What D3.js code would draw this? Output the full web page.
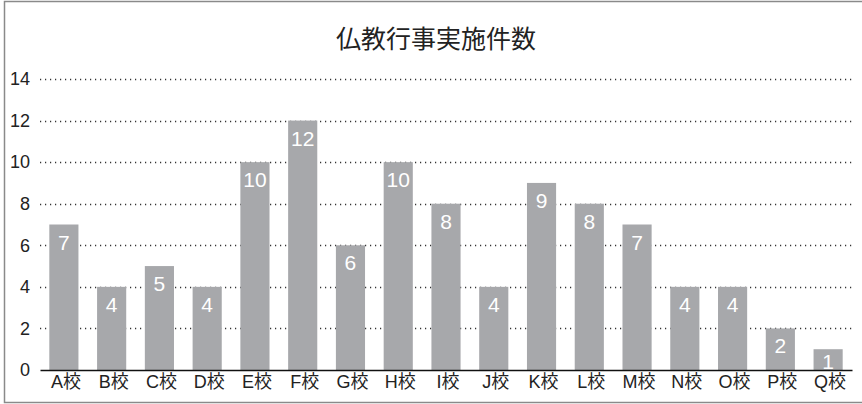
<!DOCTYPE html>
<html>
<head>
<meta charset="utf-8">
<script src="https://cdn.jsdelivr.net/npm/d3@7"></script>
<style>
  body { margin: 0; background: #fff; }
  text { font-family: "Liberation Sans", "Noto Sans CJK JP", sans-serif; }
</style>
</head>
<body>
<svg class="chart" width="862" height="404"></svg>
<script>
var schools = ["A校","B校","C校","D校","E校","F校","G校","H校","I校","J校","K校","L校","M校","N校","O校","P校","Q校"]
var counts = [7,4,5,4,10,12,6,10,8,4,9,8,7,4,4,2,1]
var yTicks = [0,2,4,6,8,10,12,14]
var title = "仏教行事実施件数"

var svg = d3.select(".chart")
var margin = {top: 79, right: 10, bottom: 34, left: 40}
var width = +svg.attr("width") - margin.left - margin.right
var height = +svg.attr("height") - margin.top - margin.bottom
var barColor = "#a7a8ab"

// outer frame (no right edge in the original)
svg.append("path")
  .attr("d", "M862,1.5H4.5V402.5H862")
  .attr("fill", "none")
  .attr("stroke", "#8a8a8a")
  .attr("stroke-width", 1.5)

svg.append("text")
  .attr("x", 436)
  .attr("y", 48)
  .attr("text-anchor", "middle")
  .style("font-family", "'Noto Sans CJK JP', sans-serif")
  .style("font-size", "25px")
  .style("fill", "#222")
  .text(title)

var g = svg.append("g").attr("transform", "translate(" + margin.left + "," + margin.top + ")")

var xscale = d3.scaleBand()
  .domain(schools)
  .range([0, width])
  .paddingInner(0.39)
  .paddingOuter(0.195)

var yscale = d3.scaleLinear()
  .domain([0, 14])
  .range([height, 0])

// dotted grid
g.selectAll(".grid")
  .data(yTicks.filter(d => d > 0))
  .enter().append("line")
  .attr("class", "grid")
  .attr("x1", 0).attr("x2", width)
  .attr("y1", d => Math.round(yscale(d)) + 0.5)
  .attr("y2", d => Math.round(yscale(d)) + 0.5)
  .attr("stroke", "#333")
  .attr("stroke-width", 1.3)
  .attr("stroke-dasharray", "1.2,3.8")

var bar = g.selectAll(".bar")
  .data(counts)
  .enter().append("g")
  .attr("class", "bar")
  .attr("transform", (d, i) => "translate(" + xscale(schools[i]) + "," + yscale(d) + ")")

bar.append("rect")
  .attr("width", xscale.bandwidth())
  .attr("height", d => height - yscale(d))
  .style("fill", barColor)

bar.append("text")
  .attr("x", xscale.bandwidth() / 2)
  .attr("y", d => Math.min(25, height - yscale(d) - 1))
  .attr("text-anchor", "middle")
  .style("fill", "white")
  .style("font-size", "21px")
  .text(d => d)

// y axis labels
g.append("g")
  .attr("class", "y axis")
  .call(d3.axisLeft(yscale).tickValues(yTicks).tickSize(0).tickPadding(10))
  .call(a => a.select(".domain").remove())
  .selectAll("text")
    .style("font-size", "18px")
    .style("fill", "#222")
    .style("font-family", "'Liberation Sans', sans-serif")

// x axis
g.append("g")
  .attr("class", "x axis")
  .attr("transform", "translate(0," + height + ")")
  .call(d3.axisBottom(xscale).tickSize(0).tickPadding(5))
  .call(a => a.select(".domain").attr("stroke", "#111").attr("stroke-width", 1.6))
  .selectAll("text")
    .attr("dx", "2")
    .style("font-size", "18px")
    .style("fill", "#222")
</script>
</body>
</html>
